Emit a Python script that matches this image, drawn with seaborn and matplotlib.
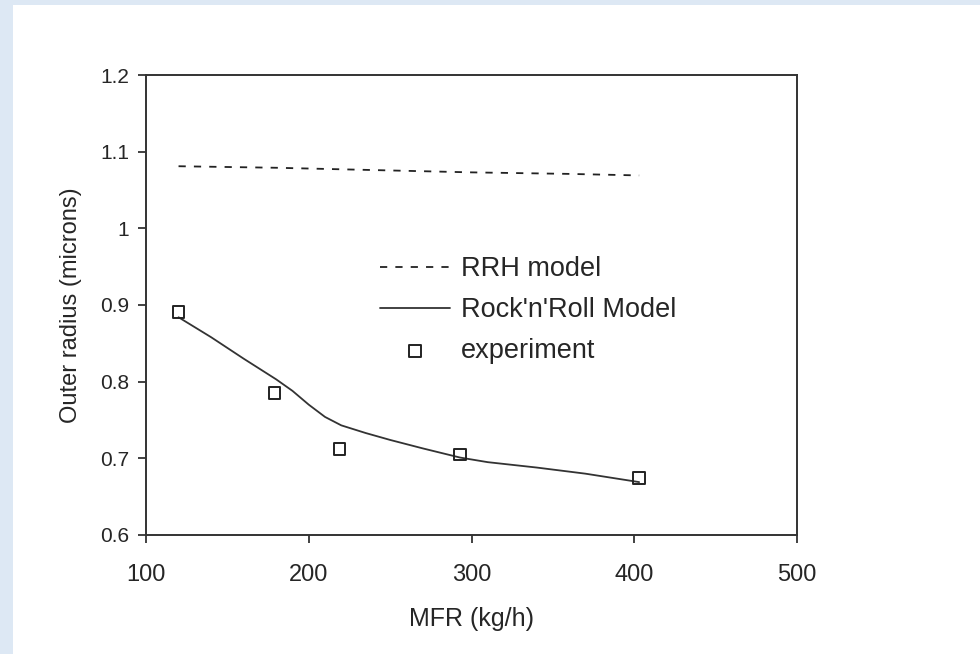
import matplotlib
matplotlib.use("Agg")
import matplotlib.pyplot as plt
import matplotlib.patches as mpatches
import seaborn as sns
import pandas as pd

# ---- data ----
mfr_rrh = [120, 180, 240, 300, 360, 403]
r_rrh = [1.081, 1.079, 1.076, 1.073, 1.071, 1.069]

mfr_rr = [120, 140, 160, 180, 190, 200, 210, 220, 235, 250, 270, 293, 310, 340, 370, 403]
r_rr = [0.884, 0.858, 0.830, 0.803, 0.788, 0.770, 0.754, 0.743, 0.733, 0.724,
        0.713, 0.701, 0.695, 0.688, 0.680, 0.669]

mfr_exp = [120, 179, 219, 293, 403]
r_exp = [0.891, 0.785, 0.712, 0.705, 0.674]

x_ticks = [100, 200, 300, 400, 500]
y_ticks = [0.6, 0.7, 0.8, 0.9, 1.0, 1.1, 1.2]
y_tick_labels = ["0.6", "0.7", "0.8", "0.9", "1", "1.1", "1.2"]

sns.set_style("white")
plt.rcParams["font.family"] = ["Liberation Sans", "DejaVu Sans"]

fig = plt.figure(figsize=(9.8, 6.54), dpi=100, facecolor="#dde8f4")
# white slide panel
panel = mpatches.Rectangle((13 / 980, 0), 1, 1 - 5 / 654,
                           transform=fig.transFigure,
                           facecolor="white", edgecolor="none", zorder=-10)
fig.patches.append(panel)
ax = fig.add_axes([146 / 980, 1 - 535 / 654, (797 - 146) / 980, (535 - 75) / 654])
ax.set_zorder(1)
ax.set_facecolor("white")

df_rrh = pd.DataFrame({"MFR": mfr_rrh, "r": r_rrh})
df_rr = pd.DataFrame({"MFR": mfr_rr, "r": r_rr})
df_exp = pd.DataFrame({"MFR": mfr_exp, "r": r_exp})

sns.lineplot(data=df_rrh, x="MFR", y="r", ax=ax, color="#222222", lw=1.3,
             label="RRH model", linestyle="--")
ax.lines[-1].set_dashes((4.0, 4.5))
sns.lineplot(data=df_rr, x="MFR", y="r", ax=ax, color="#333333", lw=1.3,
             label="Rock'n'Roll Model")
sns.scatterplot(data=df_exp, x="MFR", y="r", ax=ax, marker="s", s=70,
                facecolor="none", edgecolor="#222222", linewidth=1.4,
                label="experiment", zorder=5)

ax.set_xlim(100, 500)
ax.set_ylim(0.6, 1.2)
ax.set_xticks(x_ticks)
ax.set_xticklabels([str(v) for v in x_ticks], fontsize=17)
ax.set_yticks(y_ticks)
ax.set_yticklabels(y_tick_labels, fontsize=15)
ax.tick_params(axis="both", direction="out", length=6, width=1.3, color="#333333",
               bottom=True, left=True, top=False, right=False)
ax.tick_params(axis="x", pad=15)
ax.tick_params(axis="y", pad=6)
for s in ax.spines.values():
    s.set_visible(True)
    s.set_color("#333333")
    s.set_linewidth(1.4)

ax.set_xlabel("MFR (kg/h)", fontsize=18, labelpad=15)
ax.set_ylabel("Outer radius (microns)", fontsize=17, labelpad=13)

leg = ax.legend(loc="upper left", bbox_to_anchor=(0.359, 0.606), frameon=False,
                fontsize=19.5, borderpad=0, borderaxespad=0, handlelength=2.6,
                handletextpad=0.4, labelspacing=0.55)

fig.savefig("out.png", dpi=100, facecolor=fig.get_facecolor())
